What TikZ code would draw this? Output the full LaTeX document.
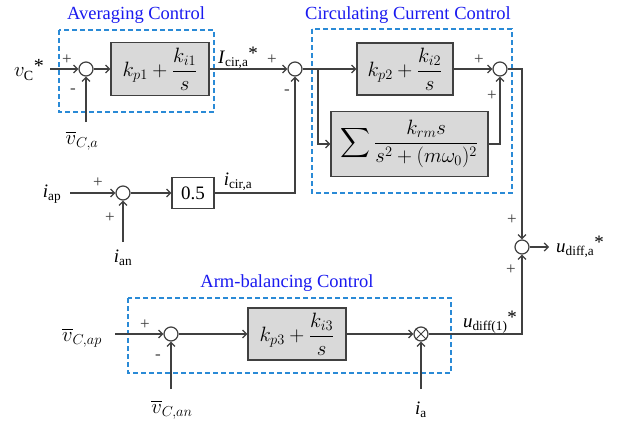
\documentclass[tikz,border=0pt]{standalone}
\usepackage{fontspec}
\usepackage{amsmath}
\setmainfont{Liberation Serif}
\usetikzlibrary{arrows.meta}
\definecolor{dashblue}{HTML}{2A8AD6}
\definecolor{titleblue}{HTML}{1A1AF0}
\definecolor{linegray}{HTML}{404040}
\definecolor{blockfill}{HTML}{D9D9D9}
\begin{document}
\begin{tikzpicture}[x=1pt,y=-1pt,
  line/.style={draw=linegray, line width=1.2pt},
  arr/.style={line, -{Straight Barb[length=4pt,width=8pt]}},
  sumnode/.style={circle, draw=linegray, line width=1.2pt, fill=white, minimum size=14pt, inner sep=0pt},
  blk/.style={rectangle, draw=linegray, line width=1.2pt, fill=blockfill, inner sep=0pt},
  grp/.style={draw=dashblue, dash pattern=on 5pt off 3pt, line width=1.3pt},
  ttl/.style={text=titleblue, font=\fontsize{18.5}{20}\selectfont, inner sep=0pt},
  lbl/.style={font=\fontsize{19}{21}\selectfont, inner sep=0pt},
  mlbl/.style={font=\fontsize{20}{22}\selectfont, inner sep=0pt},
  sgn/.style={font=\fontsize{17}{18}\selectfont, inner sep=0pt, text=linegray},
  mth/.style={font=\fontsize{20}{22}\selectfont}
]
\useasboundingbox (0,0) rectangle (618,426);
\fill[white] (0,0) rectangle (618,426);

% group boxes
\draw[grp] (59,30) rectangle (214,112);
\draw[grp] (312,29) rectangle (512,193);
\draw[grp] (128,298) rectangle (451,373);
\node[ttl] (t1) at (136,15) {Averaging Control};
\node[ttl] (t2) at (408,15) {Circulating Current Control};
\node[ttl] (t3) at (287,283) {Arm-balancing Control};

% nodes
\node[sumnode] (s1) at (86,69) {};
\node[sumnode] (s2) at (295,69) {};
\node[sumnode] (s3) at (500,69) {};
\node[sumnode] (s4) at (522,247) {};
\node[sumnode] (s5) at (123,193) {};
\node[sumnode] (s6) at (171,334) {};
\node[sumnode] (m) at (421,334) {};
\draw[linegray, line width=0.8pt] (m.north west) -- (m.south east) (m.north east) -- (m.south west);

\node[blk, mth, minimum width=98pt, minimum height=53pt] (b1) at (160,69) {$k_{p1}+\dfrac{k_{i1}}{s}$};
\node[blk, mth, minimum width=96pt, minimum height=52pt] (b2) at (405,69) {$k_{p2}+\dfrac{k_{i2}}{s}$};
\node[blk, mth, minimum width=157pt, minimum height=65pt] (b3) at (409.5,144) {$\displaystyle\sum\frac{k_{rm}s}{s^2+(m\omega_0)^2}$};
\node[blk, lbl, fill=white, minimum width=42pt, minimum height=31pt] (b4) at (193,193) {0.5};
\node[blk, mth, minimum width=98pt, minimum height=52pt] (b5) at (297,334) {$k_{p3}+\dfrac{k_{i3}}{s}$};

% free ends
\coordinate (in1) at (50,69);
\coordinate (vca) at (86,122);
\coordinate (br) at (318,69);
\coordinate (c1) at (522,69);
\coordinate (out) at (549,247);
\coordinate (iap) at (70,193);
\coordinate (ian) at (123,242);
\coordinate (vcap) at (115,334);
\coordinate (vcan) at (171,389);
\coordinate (ia) at (421,389);

% connectors
\draw[arr] (in1) -- (s1.west);
\draw[arr] (vca) -- (s1.south);
\draw[arr] (s1.east) -- (b1.west);
\draw[arr] (b1.east) -- (s2.west);
\draw[arr] (s2.east) -- (b2.west);
\draw[arr] (br) |- (b3.west);
\draw[arr] (b2.east) -- (s3.west);
\draw[arr] (b3.east) -| (s3.south);
\draw[arr] (s3.east) -- (c1) -- (s4.north);
\draw[arr] (s4.east) -- (out);
\draw[arr] (iap) -- (s5.west);
\draw[arr] (ian) -- (s5.south);
\draw[arr] (s5.east) -- (b4.west);
\draw[arr] (b4.east) -| (s2.south);
\draw[arr] (vcap) -- (s6.west);
\draw[arr] (vcan) -- (s6.south);
\draw[arr] (s6.east) -- (b5.west);
\draw[arr] (b5.east) -- (m.west);
\draw[arr] (ia) -- (m.south);
\draw[arr] (m.east) -| (s4.south);

% labels
\node[mlbl] (lvc) at (29,70) {$v_{\text{C}}$\raisebox{0.2em}{*}};
\node[mlbl] (lvca) at (82,141) {$\overline{v}_{C,a}$};
\node[lbl] (licr) at (238,58) {\textit{I}\textsubscript{cir,a}\raisebox{0.2em}{*}};
\node[lbl] (lic) at (238,182) {\textit{i}\textsubscript{cir,a}};
\node[lbl] (liap) at (52,194) {\textit{i}\textsubscript{ap}};
\node[lbl] (lian) at (123,258) {\textit{i}\textsubscript{an}};
\node[lbl, anchor=west] (lud) at (556,247) {\textit{u}\textsubscript{diff,a}\raisebox{0.2em}{*}};
\node[mlbl] (lvcap) at (82,338) {$\overline{v}_{C,ap}$};
\node[mlbl] (lvcan) at (172,410) {$\overline{v}_{C,an}$};
\node[lbl] (lia) at (421,410) {\textit{i}\textsubscript{a}};
\node[lbl] (lu1) at (490,322) {\textit{u}\textsubscript{diff(1)}\raisebox{0.2em}{*}};

% signs
\node[sgn] (p1) at (67,60) {+};
\node[sgn] (n1) at (73,91) {-};
\node[sgn] (p2) at (272,60) {+};
\node[sgn] (n2) at (287,92) {-};
\node[sgn] (p3) at (479,60) {+};
\node[sgn] (p4) at (492,96) {+};
\node[sgn] (p5) at (512,220) {+};
\node[sgn] (p6) at (511,270) {+};
\node[sgn] (p7) at (98,183) {+};
\node[sgn] (p8) at (110,218) {+};
\node[sgn] (p9) at (145,325) {+};
\node[sgn] (n3) at (158,357) {-};
\end{tikzpicture}
\end{document}
